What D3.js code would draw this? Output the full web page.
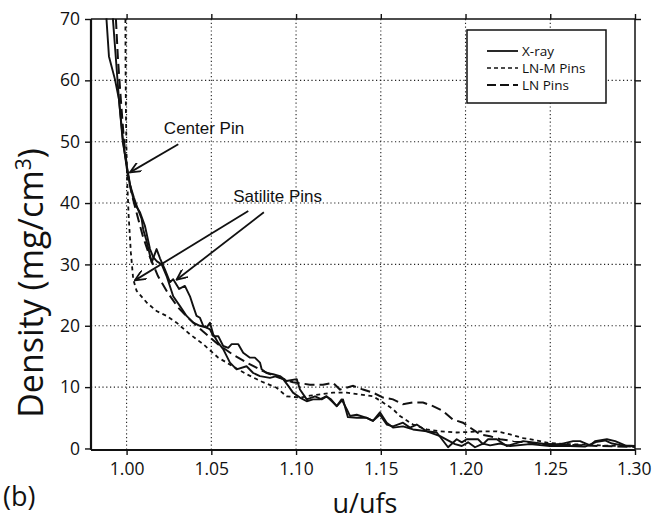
<!DOCTYPE html>
<html><head><meta charset="utf-8">
<script src="https://cdn.jsdelivr.net/npm/d3@7/dist/d3.min.js"></script>
<style>
html,body{margin:0;padding:0;background:#fff;}
svg{font-family:"Open Sans","Noto Sans",sans-serif;}
</style></head>
<body><svg id="chart" width="652" height="523"></svg>
<script>
// ---- data ----
const xTicks = [1.00, 1.05, 1.10, 1.15, 1.20, 1.25, 1.30];
const yTicks = [0, 10, 20, 30, 40, 50, 60, 70];
const seriesNames = ["X-ray", "LN-M Pins", "LN Pins"];

const xrayA_u = [0.9919,0.9937,0.9955,0.9978,1.0002,1.0019,1.0043,1.0067,1.0089,1.0098,1.0118,1.0148,1.0177,1.0197,1.0226,1.0256,1.0275,1.0310,1.0344,1.0374,1.0393,1.0413,1.0433,1.0452,1.0492,1.0511,1.0541,1.0570,1.0600,1.0620,1.0659,1.0688,1.0728,1.0757,1.0787,1.0797,1.0826,1.0865,1.0905,1.0944,1.1004,1.1023,1.1063,1.1112,1.1151,1.1181,1.1240,1.1269,1.1299,1.1318,1.1358,1.1417,1.1454,1.1495,1.1535,1.1572,1.1631,1.1672,1.1712,1.1771,1.1830,1.1897,1.1948,1.1978,1.2007,1.2074,1.2103,1.2133,1.2184,1.2243,1.2340,1.2480,1.2560,1.2635,1.2676,1.2735,1.2764,1.2834,1.2883,1.2942,1.3000];
const xrayA_d = [70.1,63.5,56.9,50.4,45.5,43.1,40.9,39.0,37.4,35.7,33.8,30.3,32.5,31.0,29.2,27.1,27.6,26.0,26.5,24.8,23.2,21.6,21.3,20.0,19.4,18.3,18.3,16.7,16.4,17.0,17.0,15.6,14.8,14.8,14.0,12.9,12.3,12.1,11.8,11.0,11.3,9.6,8.0,8.5,8.0,8.5,6.9,8.0,6.4,5.3,5.5,5.0,4.5,5.5,3.9,3.6,4.2,3.4,3.9,2.8,2.6,0.2,1.5,1.0,1.5,1.5,0.7,1.5,1.5,0.4,1.2,0.7,0.7,1.2,1.2,0.5,1.2,1.5,1.2,0.5,0.4];

const xrayB_u = [0.9881,0.9896,0.9931,0.9955,0.9978,1.0008,1.0025,1.0049,1.0079,1.0108,1.0138,1.0157,1.0179,1.0207,1.0236,1.0275,1.0315,1.0354,1.0393,1.0433,1.0472,1.0492,1.0511,1.0541,1.0570,1.0610,1.0649,1.0708,1.0747,1.0787,1.0846,1.0885,1.0924,1.0954,1.0982,1.1023,1.1063,1.1100,1.1141,1.1177,1.1206,1.1240,1.1277,1.1306,1.1358,1.1417,1.1454,1.1495,1.1535,1.1572,1.1631,1.1690,1.1771,1.1850,1.1938,1.1978,1.2015,1.2056,1.2103,1.2145,1.2204,1.2263,1.2380,1.2498,1.2616,1.2705,1.2776,1.2823,1.2865,1.2924,1.3000];
const xrayB_d = [70.1,63.9,60.2,56.9,49.9,45.0,42.3,39.8,38.5,36.3,32.5,31.2,30.5,30.0,28.1,24.8,23.2,21.6,20.5,20.0,19.7,20.5,18.6,17.2,16.2,14.0,12.9,13.4,12.3,11.8,11.5,11.8,11.3,10.2,9.1,8.3,7.7,8.0,8.0,8.5,8.0,6.9,8.0,5.1,5.0,5.0,4.5,5.9,4.2,3.4,3.6,3.1,2.8,2.0,0.7,0.4,1.0,0.2,0.8,0.5,0.8,0.4,0.7,0.4,0.4,0.3,1.1,1.3,0.8,0.5,0.3];

const lnm_u = [0.9993,0.9994,0.9996,0.9999,1.0003,1.0012,1.0025,1.0039,1.0059,1.0118,1.0177,1.0236,1.0295,1.0374,1.0452,1.0541,1.0627,1.0708,1.0805,1.0885,1.0944,1.1023,1.1082,1.1218,1.1299,1.1377,1.1454,1.1513,1.1572,1.1613,1.1690,1.1771,1.1850,1.1948,1.2027,1.2103,1.2184,1.2263,1.2340,1.2440,1.2487,1.2616,1.2793,1.3000];
const lnm_d = [70.0,62.0,55.0,49.0,44.0,38.0,32.0,27.6,25.7,23.8,22.4,21.6,20.5,18.6,17.0,14.8,13.4,12.1,10.8,9.9,8.5,8.3,8.6,9.1,9.1,8.8,8.5,7.5,6.4,5.3,3.9,3.1,2.8,2.6,2.7,2.8,2.8,2.3,1.7,1.2,0.9,0.7,0.5,0.3];

const ln_u = [0.9937,0.9949,0.9966,0.9984,1.0005,1.0031,1.0061,1.0096,1.0138,1.0185,1.0238,1.0303,1.0374,1.0450,1.0539,1.0627,1.0716,1.0805,1.0893,1.0982,1.1082,1.1159,1.1218,1.1259,1.1336,1.1395,1.1454,1.1513,1.1572,1.1631,1.1690,1.1749,1.1808,1.1867,1.1926,1.1985,1.2027,1.2086,1.2145,1.2204,1.2281,1.2361,1.2469,1.2616,1.2793,1.3000];
const ln_d = [70.0,63.5,56.9,50.4,45.0,41.4,38.2,34.6,31.2,28.1,25.6,23.0,21.0,19.1,17.0,15.3,13.9,12.6,11.6,10.8,10.4,10.4,10.7,9.6,10.2,9.6,9.1,8.3,8.0,7.2,7.5,7.5,6.9,6.1,4.7,4.2,3.4,2.3,2.0,1.5,1.2,1.0,0.7,0.6,0.4,0.25];

// annotations (data units)
const annoText = ["Center Pin", "Satilite Pins"];
const annoTextPos = [[1.0220, 51.3], [1.0629, 40.2]];
const arrows = [
  [[1.0305, 49.6], [1.0020, 45.0]],
  [[1.0718, 38.7], [1.0049, 27.4]],
  [[1.0810, 38.5], [1.0295, 27.5]]
];

// ---- drawing ----
const svg = d3.select("#chart");
const W = 652, H = 523;
const x = d3.scaleLinear().domain([0.979, 1.30]).range([91, 635]);
const y = d3.scaleLinear().domain([-0.25, 70]).range([450, 19]);
const [x0, x1] = x.range();
const [y0, y1] = y.range();

svg.append("rect").attr("width", W).attr("height", H).attr("fill", "#fff");

// grid
const g = svg.append("g");
g.selectAll(".vg").data(xTicks.filter(t => t < 1.299)).join("line")
  .attr("x1", d => x(d)).attr("x2", d => x(d)).attr("y1", y1).attr("y2", y0)
  .attr("stroke", "#222").attr("stroke-width", 1.1).attr("stroke-dasharray", "1.2,2.6");
g.selectAll(".hg").data(yTicks.filter(t => t > 0 && t < 70)).join("line")
  .attr("x1", x0).attr("x2", x1).attr("y1", d => y(d)).attr("y2", d => y(d))
  .attr("stroke", "#222").attr("stroke-width", 1.1).attr("stroke-dasharray", "1.2,2.6");

// axes
const axL = d3.axisLeft(y).tickValues(yTicks).tickSize(6).tickPadding(5).tickFormat(d3.format("d"));
const axR = d3.axisRight(y).tickValues(yTicks).tickSize(6).tickFormat("");
const axB = d3.axisBottom(x).tickValues(xTicks).tickSize(5).tickPadding(8).tickFormat(d3.format(".2f"));
const axT = d3.axisTop(x).tickValues(xTicks).tickSize(5).tickFormat("");

function styleAxis(sel) {
  sel.select(".domain").remove();
  sel.selectAll(".tick line").attr("stroke", "#111").attr("stroke-width", 1.4);
  sel.selectAll("text").style("font-size", "17.5px").style("fill", "#111")
    .style("font-family", "'Open Sans','Noto Sans',sans-serif");
}
svg.append("g").attr("transform", `translate(${x0},0)`).call(axL).call(styleAxis);
svg.append("g").attr("transform", `translate(${x1},0)`).call(axR).call(styleAxis);
const gb = svg.append("g").attr("transform", `translate(0,${y0})`).call(axB).call(styleAxis);
gb.selectAll(".tick text").filter(d => d > 1.299).attr("text-anchor", "end").attr("dx", "16");
svg.append("g").attr("transform", `translate(0,${y1})`).call(axT).call(styleAxis);

// curves
const line = d3.line().x(d => x(d[0])).y(d => y(d[1]));
const zip = (u, d) => u.map((v, i) => [v, d[i]]);
const plot = svg.append("g");
plot.append("path").datum(zip(lnm_u, lnm_d)).attr("d", line)
  .attr("fill", "none").attr("stroke", "#111").attr("stroke-width", 1.8).attr("stroke-dasharray", "4,3.5");
plot.append("path").datum(zip(ln_u, ln_d)).attr("d", line)
  .attr("fill", "none").attr("stroke", "#111").attr("stroke-width", 2).attr("stroke-dasharray", "10,5");
plot.append("path").datum(zip(xrayB_u, xrayB_d)).attr("d", line)
  .attr("fill", "none").attr("stroke", "#111").attr("stroke-width", 1.9).attr("stroke-linejoin", "round");
plot.append("path").datum(zip(xrayA_u, xrayA_d)).attr("d", line)
  .attr("fill", "none").attr("stroke", "#111").attr("stroke-width", 1.9).attr("stroke-linejoin", "round");

// frame
svg.append("line").attr("x1", x0).attr("x2", x1).attr("y1", y1).attr("y2", y1).attr("stroke", "#111").attr("stroke-width", 1.5);
svg.append("line").attr("x1", x0).attr("x2", x1).attr("y1", y0).attr("y2", y0).attr("stroke", "#111").attr("stroke-width", 2.2);
svg.append("line").attr("x1", x0).attr("x2", x0).attr("y1", y1).attr("y2", y0).attr("stroke", "#111").attr("stroke-width", 2.2);
svg.append("line").attr("x1", x1).attr("x2", x1).attr("y1", y1).attr("y2", y0).attr("stroke", "#111").attr("stroke-width", 1.5);

// legend
const lg = svg.append("g");
lg.append("rect").attr("x", 467).attr("y", 30).attr("width", 139).attr("height", 73)
  .attr("fill", "#fff").attr("stroke", "#111").attr("stroke-width", 1.5);
const dashes = [null, "4,3", "9,4"];
const widths = [1.8, 1.6, 2.2];
seriesNames.forEach((n, i) => {
  const yy = 51 + i * 17;
  lg.append("line").attr("x1", 487).attr("x2", 518).attr("y1", yy).attr("y2", yy)
    .attr("stroke", "#111").attr("stroke-width", widths[i]).attr("stroke-dasharray", dashes[i]);
  lg.append("text").attr("x", 522).attr("y", yy + 4.5).style("font-size", "13.5px").style("fill", "#111").text(n);
});

// annotations
const defs = svg.append("defs");
defs.append("marker").attr("id", "ah").attr("viewBox", "0 0 12 10").attr("refX", 11).attr("refY", 5)
  .attr("markerWidth", 12).attr("markerHeight", 10).attr("markerUnits", "userSpaceOnUse").attr("orient", "auto")
  .append("path").attr("d", "M0,0 L11,5 L0,10").attr("fill", "none").attr("stroke", "#111").attr("stroke-width", 1.8);
arrows.forEach(a => {
  svg.append("line").attr("x1", x(a[0][0])).attr("y1", y(a[0][1])).attr("x2", x(a[1][0])).attr("y2", y(a[1][1]))
    .attr("stroke", "#111").attr("stroke-width", 1.8).attr("marker-end", "url(#ah)");
});
annoText.forEach((t, i) => {
  svg.append("text").attr("x", x(annoTextPos[i][0])).attr("y", y(annoTextPos[i][1]))
    .style("font-family", "'Liberation Sans',Arial,sans-serif").style("font-size", "17px").style("fill", "#111").text(t);
});

// titles
svg.append("text").attr("x", 365).attr("y", 513).attr("text-anchor", "middle")
  .style("font-size", "27px").style("fill", "#111").text("u/ufs");
svg.append("text").attr("x", 3).attr("y", 506).style("font-size", "27px").style("fill", "#111").text("(b)");
const yt = svg.append("text").attr("transform", "translate(43,283) rotate(-90)")
  .attr("text-anchor", "middle").style("font-size", "34px").style("fill", "#111");
yt.append("tspan").text("Density (mg/cm");
yt.append("tspan").attr("dy", -12).style("font-size", "21px").text("3");
yt.append("tspan").attr("dy", 12).text(")");
</script></body></html>
